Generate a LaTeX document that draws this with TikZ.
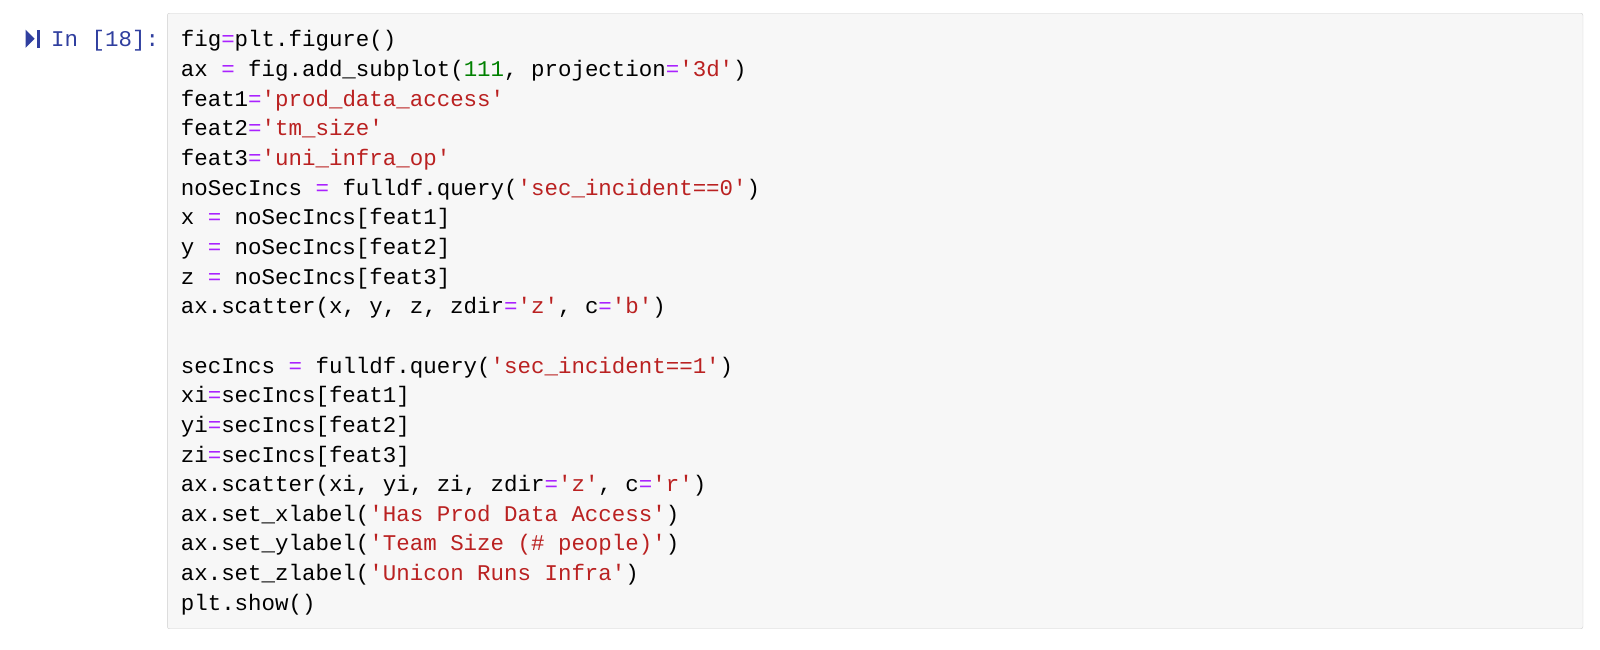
\documentclass[tikz,border=0pt]{standalone}
\usepackage{fontspec}
\setmonofont{Liberation Mono}
\definecolor{eqc}{HTML}{AA22FF}
\definecolor{strc}{HTML}{BA2121}
\definecolor{numc}{HTML}{008000}
\definecolor{promptc}{HTML}{303F9F}
\definecolor{cellbg}{HTML}{F7F7F7}
\definecolor{cellbd}{HTML}{CFCFCF}
\newcommand\eq{\textcolor{eqc}{=}}
\newcommand\str[1]{\textcolor{strc}{#1}}
\newcommand\num[1]{\textcolor{numc}{#1}}
\tikzset{codeline/.style={anchor=base west,inner sep=0pt,font=\ttfamily\fontsize{22.45}{26}\selectfont}}
\begin{document}
\begin{tikzpicture}[x=1pt,y=-1pt]
\useasboundingbox (0,0) rectangle (1600,649);
\fill[white] (0,0) rectangle (1600,649);
\begin{scope}[scale=1.0206]
\draw[cellbd,fill=cellbg,rounded corners=2pt] (164,13) rectangle (1551,616);
\fill[promptc] (25,29) -- (34,38) -- (25,47) -- cycle;
\fill[promptc] (36,29) rectangle (39.5,47);
\node[codeline,text=promptc] (prompt) at (50,46) {In [18]:};
\foreach \i/\t in {
0/{fig\eq plt.figure()},
1/{ax \eq{} fig.add\_subplot(\num{111}, projection\eq\str{'3d'})},
2/{feat1\eq\str{'prod\_data\_access'}},
3/{feat2\eq\str{'tm\_size'}},
4/{feat3\eq\str{'uni\_infra\_op'}},
5/{noSecIncs \eq{} fulldf.query(\str{'sec\_incident==0'})},
6/{x \eq{} noSecIncs[feat1]},
7/{y \eq{} noSecIncs[feat2]},
8/{z \eq{} noSecIncs[feat3]},
9/{ax.scatter(x, y, z, zdir\eq\str{'z'}, c\eq\str{'b'})},
11/{secIncs \eq{} fulldf.query(\str{'sec\_incident==1'})},
12/{xi\eq secIncs[feat1]},
13/{yi\eq secIncs[feat2]},
14/{zi\eq secIncs[feat3]},
15/{ax.scatter(xi, yi, zi, zdir\eq\str{'z'}, c\eq\str{'r'})},
16/{ax.set\_xlabel(\str{'Has Prod Data Access'})},
17/{ax.set\_ylabel(\str{'Team Size (\# people)'})},
18/{ax.set\_zlabel(\str{'Unicon Runs Infra'})},
19/{plt.show()}}
{\node[codeline] (line\i) at (177,{46+29.05*\i}) {\t};}
\end{scope}
\end{tikzpicture}
\end{document}
